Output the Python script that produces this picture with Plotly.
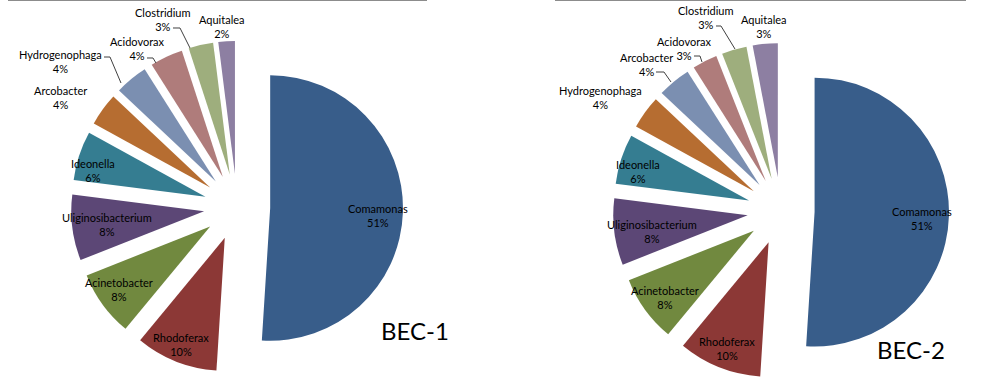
import plotly.graph_objects as go

# ---- data ----
labels_bec1 = ["Comamonas", "Rhodoferax", "Acinetobacter", "Uliginosibacterium", "Ideonella",
               "Arcobacter", "Hydrogenophaga", "Acidovorax", "Clostridium", "Aquitalea"]
values_bec1 = [51, 10, 8, 8, 6, 4, 4, 4, 3, 2]

labels_bec2 = ["Comamonas", "Rhodoferax", "Acinetobacter", "Uliginosibacterium", "Ideonella",
               "Hydrogenophaga", "Arcobacter", "Acidovorax", "Clostridium", "Aquitalea"]
values_bec2 = [51, 10, 8, 8, 6, 4, 4, 3, 3, 3]

panel_titles = ["BEC-1", "BEC-2"]

# ---- style / layout (pixels) ----
slice_colors = ["#385D8A", "#8C3836", "#71893F", "#5C4776", "#357D91",
                "#B66D31", "#7B8FB1", "#AF7C7B", "#9EAE7D", "#8D7FA2"]
W, H = 998, 388
FONT = "Lato"
PULL = 0.25

# label centres (pixels) per panel, slice order
label_xy_bec1 = [(378, 215), (181, 344), (119, 289), (107, 225), (93, 170),
                 (60, 97), (60, 61), (137, 48), (163, 19), (222, 27)]
label_xy_bec2 = [(922, 218), (727, 348), (665, 297), (652, 231), (638, 171),
                 (600, 97), (646, 65), (684, 48), (706, 18), (764, 27)]
# leader lines: (slice index, polyline in pixels)
leaders_bec1 = [(6, [(104, 57), (110, 57), (121, 83)]),
                (7, [(147, 58), (153, 58), (156, 63)]),
                (8, [(173, 28), (180, 28), (190, 48)])]
leaders_bec2 = [(6, [(656, 72), (664, 72), (671, 82)]),
                (7, [(694, 56), (700, 56), (702, 62)]),
                (8, [(716, 26), (721, 26), (735, 49)])]


def px_domain(cx, cy, half):
    return dict(x=[(cx - half) / W, (cx + half) / W],
                y=[(H - cy - half) / H, (H - cy + half) / H])


def px(x, y):
    return x / W, (H - y) / H


fig = go.Figure()
panels = [
    (labels_bec1, values_bec1, px_domain(237, 207, 166), label_xy_bec1, leaders_bec1),
    (labels_bec2, values_bec2, px_domain(781, 211, 168), label_xy_bec2, leaders_bec2),
]
for labels, values, dom, label_xy, leaders in panels:
    fig.add_trace(go.Pie(
        labels=labels, values=values, sort=False, direction="clockwise", rotation=0,
        pull=PULL, domain=dom, automargin=False,
        marker=dict(colors=slice_colors, line=dict(width=0)),
        textinfo="none", showlegend=False, hoverinfo="label+percent",
    ))
    total = sum(values)
    for (lx, ly), lab, v in zip(label_xy, labels, values):
        ax_, ay_ = px(lx, ly)
        fig.add_annotation(x=ax_, y=ay_, xref="paper", yref="paper",
                           text=f"{lab}<br>{round(100 * v / total)}%", showarrow=False,
                           align="center", xanchor="center", yanchor="middle",
                           font=dict(family=FONT, size=11, color="#000000"))
    for _, pts in leaders:
        path = "M " + " L ".join(f"{px(x, y)[0]:.5f},{px(x, y)[1]:.5f}" for x, y in pts)
        fig.add_shape(type="path", path=path, xref="paper", yref="paper",
                      line=dict(color="#404040", width=1))

for title, (tx, ty) in zip(panel_titles, [(415, 347), (947, 366)]):
    x_, y_ = px(tx, ty)
    fig.add_annotation(x=x_, y=y_, xref="paper", yref="paper", text=title, showarrow=False,
                       font=dict(family=FONT, size=24, color="#000000"))

for x0, x1 in [(8, 427), (555, 966)]:
    fig.add_shape(type="line", xref="paper", yref="paper",
                  x0=x0 / W, x1=x1 / W, y0=(H - 0.5) / H, y1=(H - 0.5) / H,
                  line=dict(color="#8C8C8C", width=1))

fig.update_layout(width=W, height=H,
                  margin=dict(l=0, r=0, t=0, b=0, pad=0, autoexpand=False),
                  paper_bgcolor="white", plot_bgcolor="white", showlegend=False)
fig.write_html("out.html", config={"displayModeBar": False},
               post_script="document.body.style.margin='0';document.body.style.overflow='hidden';")
